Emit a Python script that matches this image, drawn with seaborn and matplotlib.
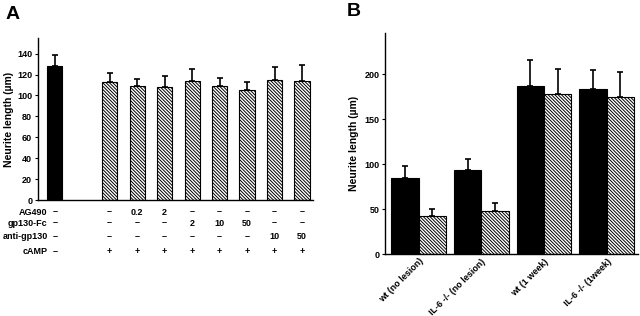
import matplotlib
matplotlib.use("Agg")
import matplotlib.pyplot as plt
import matplotlib.transforms as mtransforms
import seaborn as sns
import pandas as pd

# ---- data, panel A ----
a_conditions = ["ctrl", "gap", "c1", "c2", "c3", "c4", "c5", "c6", "c7", "c8"]
a_means = [128, 0, 113, 109, 108, 114, 109, 105, 115, 114]
a_err = [11, 0, 8, 7, 11, 11, 8, 8, 12, 15]
a_rows = ["AG490", "gp130-Fc", "anti-gp130", "cAMP"]
a_table = [
    ["–", "", "–", "0.2", "2", "–", "–", "–", "–", "–"],
    ["–", "", "–", "–", "–", "2", "10", "50", "–", "–"],
    ["–", "", "–", "–", "–", "–", "–", "–", "10", "50"],
    ["–", "", "+", "+", "+", "+", "+", "+", "+", "+"],
]
a_yticks = [0, 20, 40, 60, 80, 100, 120, 140]

# ---- data, panel B ----
b_groups = ["wt (no lesion)", "IL-6 -/- (no lesion)", "wt (1 week)", "IL-6 -/- (1week)"]
b_black = [85, 93, 187, 184]
b_black_err = [13, 13, 29, 21]
b_hatch = [42, 48, 178, 175]
b_hatch_err = [8, 9, 28, 27]
b_yticks = [0, 50, 100, 150, 200]

sns.set_theme(style="ticks")
plt.rcParams["font.family"] = ["Liberation Sans", "DejaVu Sans"]
plt.rcParams["font.weight"] = "bold"
plt.rcParams["text.color"] = "black"
plt.rcParams["axes.labelcolor"] = "black"
plt.rcParams["xtick.color"] = "black"
plt.rcParams["ytick.color"] = "black"
plt.rcParams["axes.edgecolor"] = "black"
plt.rcParams["hatch.linewidth"] = 0.7
plt.rcParams["hatch.color"] = "#333333"

fig = plt.figure(figsize=(6.4, 3.16), dpi=100)
axA = fig.add_axes([0.059, 0.367, 0.43, 0.513])
axB = fig.add_axes([0.602, 0.196, 0.395, 0.70])

HATCH = "\\\\\\\\\\\\\\\\\\\\"

# ---- panel A ----
dfA = pd.DataFrame({"cond": a_conditions, "len": a_means})
sns.barplot(data=dfA, x="cond", y="len", order=a_conditions, ax=axA,
            color="white", width=0.55, edgecolor="black", linewidth=0.8,
            errorbar=None)
for i, p in enumerate(axA.patches):
    if a_conditions[i] == "gap":
        p.set_visible(False)
    elif a_conditions[i] == "ctrl":
        p.set_facecolor("black")
    else:
        p.set_hatch(HATCH)
xs = [i for i, c in enumerate(a_conditions) if c != "gap"]
axA.errorbar(xs, [a_means[i] for i in xs],
             yerr=[[0] * len(xs), [a_err[i] for i in xs]],
             fmt="none", ecolor="black", elinewidth=1.2, capsize=2, capthick=1.2)
axA.set_xlim(-0.62, 9.4)
axA.set_ylim(0, 155)
axA.set_yticks(a_yticks)
axA.set_xticks([])
axA.set_xlabel("")
axA.set_ylabel("Neurite length (µm)", fontsize=7.5, fontweight="bold", labelpad=2)
axA.tick_params(axis="y", labelsize=6.5, length=2.5, width=0.8, pad=1.5)
for lab in axA.get_yticklabels():
    lab.set_fontweight("bold")
sns.despine(ax=axA)
for sp in axA.spines.values():
    sp.set_linewidth(1.0)

trA = mtransforms.blended_transform_factory(axA.transData, axA.transAxes)
row_y = [-0.074, -0.142, -0.228, -0.315]
for name, vals, ry in zip(a_rows, a_table, row_y):
    axA.text(-0.26, ry, name, transform=trA, ha="right", va="center",
             fontsize=6.5, fontweight="bold", clip_on=False)
    for i, v in enumerate(vals):
        if v:
            axA.text(i, ry, v, transform=trA, ha="center", va="center",
                     fontsize=6.5, fontweight="bold", clip_on=False)

fig.text(0.008, 0.955, "A", fontsize=14, fontweight="bold", va="center")

# ---- panel B ----
dfB = pd.DataFrame({
    "group": b_groups * 2,
    "kind": ["black"] * 4 + ["hatch"] * 4,
    "len": b_black + b_hatch,
})
sns.barplot(data=dfB, x="group", y="len", hue="kind", order=b_groups,
            hue_order=["black", "hatch"], palette={"black": "black", "hatch": "white"},
            width=0.87, edgecolor="black", linewidth=0.8, errorbar=None,
            legend=False, ax=axB)
bars = axB.patches
nb = len(b_groups)
for p in bars[nb:2 * nb]:
    p.set_hatch(HATCH)
cx_black = [p.get_x() + p.get_width() / 2 for p in bars[:nb]]
cx_hatch = [p.get_x() + p.get_width() / 2 for p in bars[nb:2 * nb]]
axB.errorbar(cx_black, b_black, yerr=[[0] * nb, b_black_err], fmt="none",
             ecolor="black", elinewidth=1.2, capsize=2.5, capthick=1.2)
axB.errorbar(cx_hatch, b_hatch, yerr=[[0] * nb, b_hatch_err], fmt="none",
             ecolor="black", elinewidth=1.2, capsize=2.5, capthick=1.2)
axB.set_xlim(-0.53, 3.5)
axB.set_ylim(0, 246)
axB.set_yticks(b_yticks)
axB.set_xlabel("")
axB.set_ylabel("Neurite length (µm)", fontsize=7.5, fontweight="bold", labelpad=4)
axB.tick_params(axis="y", labelsize=6.5, length=2.5, width=0.8, pad=1.5)
axB.tick_params(axis="x", labelsize=6.5, length=0, pad=2)
axB.set_xticks(range(nb))
axB.set_xticklabels(b_groups, rotation=45, ha="right", rotation_mode="anchor",
                    fontweight="bold")
for lab in axB.get_yticklabels():
    lab.set_fontweight("bold")
sns.despine(ax=axB)
for sp in axB.spines.values():
    sp.set_linewidth(1.0)

fig.text(0.542, 0.965, "B", fontsize=14, fontweight="bold", va="center")

fig.savefig("out.png", dpi=100, facecolor="white")
